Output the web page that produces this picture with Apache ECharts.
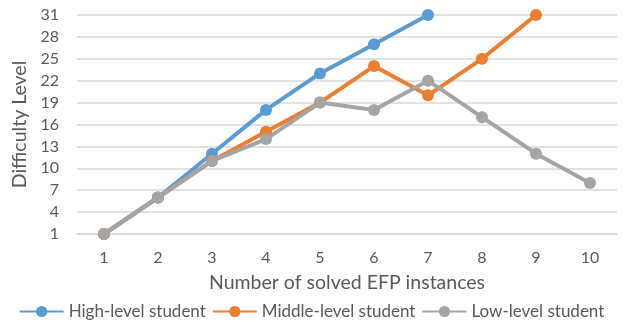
<!DOCTYPE html>
<html>
<head>
<meta charset="utf-8">
<script src="https://cdn.jsdelivr.net/npm/echarts@6/dist/echarts.min.js"></script>
<style>html,body{margin:0;padding:0;background:#fff}#c{width:623px;height:326px}</style>
</head>
<body>
<div id="c"></div>
<script>
const categories = ['1','2','3','4','5','6','7','8','9','10'];
const highLevel = [1, 6, 12, 18, 23, 27, 31];
const middleLevel = [1, 6, 11, 15, 19, 24, 20, 25, 31];
const lowLevel = [1, 6, 11, 14, 19, 18, 22, 17, 12, 8];
const seriesNames = ['High-level student', 'Middle-level student', 'Low-level student'];
const colors = ['#5B9BD5', '#ED7D31', '#A5A5A5'];

const font = 'Lato, "Open Sans", sans-serif';
const chart = echarts.init(document.getElementById('c'));
function mk(name, data, color) {
  return {
    name, type: 'line', data, color,
    symbol: 'circle', symbolSize: 12,
    lineStyle: { width: 4, color },
    itemStyle: { color },
    animation: false
  };
}
chart.setOption({
  animation: false,
  grid: { left: 77, right: 6, top: 15, bottom: 92 },
  legend: {
    top: 298, left: 'center',
    itemWidth: 44, itemHeight: 14, itemGap: 6,
    textStyle: { fontFamily: font, fontSize: 17, color: '#595959' },
    data: seriesNames
  },
  xAxis: {
    type: 'category', data: categories, boundaryGap: true,
    name: 'Number of solved EFP instances', nameLocation: 'middle', nameGap: 39,
    nameTextStyle: { fontFamily: font, fontSize: 19.5, color: '#595959' },
    axisLine: { lineStyle: { color: '#D9D9D9', width: 1.5 } },
    axisTick: { show: false },
    axisLabel: { fontFamily: font, fontSize: 16, color: '#595959', margin: 16 }
  },
  yAxis: {
    type: 'value', min: 1, max: 31, interval: 3,
    name: 'Difficulty Level', nameLocation: 'middle', nameGap: 46,
    nameTextStyle: { fontFamily: font, fontSize: 19.5, color: '#595959' },
    axisLine: { show: false }, axisTick: { show: false },
    splitLine: { lineStyle: { color: '#D9D9D9', width: 1.5 } },
    axisLabel: { fontFamily: font, fontSize: 16, color: '#595959', margin: 18 }
  },
  series: [
    mk(seriesNames[0], highLevel, colors[0]),
    mk(seriesNames[1], middleLevel, colors[1]),
    mk(seriesNames[2], lowLevel, colors[2])
  ]
});
</script>
</body>
</html>
